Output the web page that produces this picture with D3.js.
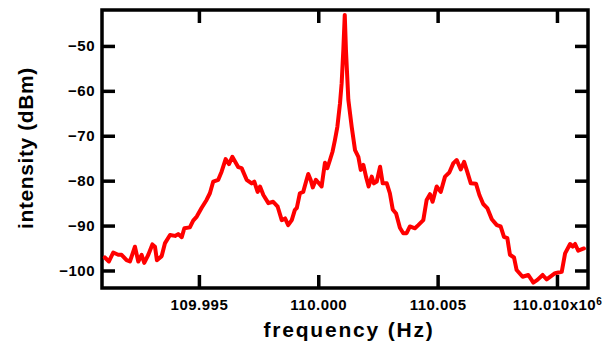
<!DOCTYPE html>
<html>
<head>
<meta charset="utf-8">
<script src="https://cdn.jsdelivr.net/npm/d3@7"></script>
<style>
  body { margin: 0; background: #fff; }
  text { font-family: "Liberation Sans", Arial, Helvetica, sans-serif; font-weight: bold; }
</style>
</head>
<body>
<svg id="chart" width="613" height="342"></svg>
<script>
// frequency in MHz, intensity in dBm
var freq = [
  109.99106, 109.99123, 109.99141, 109.99162, 109.99176, 109.99197, 109.99211, 109.99232, 109.99246, 109.99260,
  109.99271, 109.99288, 109.99305, 109.99316, 109.99324, 109.99344, 109.99358, 109.99379, 109.99400, 109.99413,
  109.99428, 109.99439, 109.99462, 109.99476, 109.99491, 109.99511, 109.99532, 109.99546, 109.99560, 109.99581,
  109.99595, 109.99612, 109.99626, 109.99640, 109.99665, 109.99679, 109.99700, 109.99721, 109.99732, 109.99746,
  109.99756, 109.99770, 109.99791, 109.99811, 109.99830, 109.99847, 109.99861, 109.99874, 109.99889, 109.99902,
  109.99910, 109.99923, 109.99937, 109.99949, 109.99958, 109.99968, 109.99977, 109.99990, 110.00000, 110.00014,
  110.00028, 110.00038, 110.00049, 110.00060, 110.00070, 110.00080, 110.00091, 110.00098, 110.00105, 110.00111,
  110.00116, 110.00126, 110.00140, 110.00154, 110.00168, 110.00178, 110.00189, 110.00200, 110.00211, 110.00224,
  110.00233, 110.00245, 110.00259, 110.00270, 110.00287, 110.00300, 110.00312, 110.00326, 110.00342, 110.00356,
  110.00370, 110.00384, 110.00405, 110.00419, 110.00440, 110.00454, 110.00468, 110.00479, 110.00496, 110.00513,
  110.00531, 110.00549, 110.00566, 110.00580, 110.00597, 110.00611, 110.00624, 110.00639, 110.00661, 110.00675,
  110.00691, 110.00708, 110.00727, 110.00748, 110.00764, 110.00778, 110.00792, 110.00803, 110.00820, 110.00831,
  110.00856, 110.00880, 110.00901, 110.00918, 110.00940, 110.00957, 110.00992, 110.01020, 110.01034, 110.01055,
  110.01066, 110.01076, 110.01089, 110.01113
]
var intensity = [
  -97.1, -98.0, -96.0, -96.5, -96.5, -97.7, -98.0, -94.7, -98.0, -96.5,
  -98.3, -96.5, -94.2, -94.7, -97.7, -96.8, -93.9, -92.1, -92.3, -91.9,
  -92.6, -90.6, -90.4, -88.9, -88.0, -86.1, -84.3, -82.8, -80.2, -79.8,
  -78.0, -75.2, -76.3, -74.7, -77.0, -77.2, -79.8, -80.6, -80.2, -82.5,
  -81.3, -83.2, -85.0, -84.7, -85.8, -88.8, -88.4, -89.9, -88.8, -86.5,
  -86.1, -82.8, -82.5, -80.2, -78.5, -79.8, -81.5, -79.8, -80.4, -81.3,
  -76.0, -77.2, -75.4, -73.5, -70.9, -68.0, -62.8, -58.3, -50.9, -43.1,
  -50.9, -62.0, -68.0, -73.2, -74.7, -77.6, -76.5, -79.1, -81.3, -79.1,
  -80.6, -80.2, -76.9, -80.6, -80.6, -82.8, -86.4, -87.3, -90.5, -91.7,
  -91.7, -90.2, -90.6, -89.9, -88.8, -84.3, -83.0, -84.7, -81.3, -82.5,
  -79.1, -78.2, -76.1, -75.4, -77.5, -75.8, -78.0, -80.6, -80.7, -83.2,
  -85.2, -86.1, -88.6, -89.9, -90.2, -92.5, -92.8, -96.5, -97.1, -99.9,
  -101.4, -101.0, -102.7, -102.1, -101.0, -102.0, -100.6, -100.3, -96.2, -94.1,
  -94.7, -94.1, -95.6, -95.1
]
var xTicks = [109.995, 110.000, 110.005, 110.010]
var yTicks = [-100, -90, -80, -70, -60, -50]

var margin = {top: 10, left: 102, right: 25, bottom: 54}
var width = 613 - margin.left - margin.right
var height = 342 - margin.top - margin.bottom

var svg = d3.select('#chart')
var g = svg.append('g')
  .attr('transform', 'translate(' + margin.left + ',' + margin.top + ')')

var x = d3.scaleLinear().domain([109.99094, 110.01130]).range([0, width])
var y = d3.scaleLinear().domain([-103.9, -42]).range([height, 0])

function styleAxis(sel) {
  sel.select('.domain').remove()
  sel.selectAll('.tick line').attr('stroke', '#000').attr('stroke-width', 3.5)
  sel.selectAll('.tick text')
    .attr('fill', '#000')
    .style('font-size', '15px')
    .style('letter-spacing', '0.5px')
}

// bottom axis with labels
var xAxis = g.append('g')
  .attr('transform', 'translate(0,' + height + ')')
  .call(d3.axisBottom(x).tickValues(xTicks).tickFormat(d3.format('.3f'))
    .tickSizeInner(-13).tickSizeOuter(0).tickPadding(11))
  .call(styleAxis)

// last label gets the x10^6 multiplier
var last = xAxis.selectAll('.tick text').filter(function(d, i) { return i === xTicks.length - 1 })
last.text(null)
last.append('tspan').text('110.010x10')
last.append('tspan').attr('dy', '-0.5em').style('font-size', '10px').text('6')

// top axis, ticks only
g.append('g')
  .call(d3.axisTop(x).tickValues(xTicks).tickFormat('').tickSizeInner(-13).tickSizeOuter(0))
  .call(styleAxis)

// left axis with labels
g.append('g')
  .call(d3.axisLeft(y).tickValues(yTicks).tickSizeInner(-13).tickSizeOuter(0).tickPadding(7))
  .call(styleAxis)

// right axis, ticks only
g.append('g')
  .attr('transform', 'translate(' + width + ',0)')
  .call(d3.axisRight(y).tickValues(yTicks).tickFormat('').tickSizeInner(-13).tickSizeOuter(0))
  .call(styleAxis)

// frame
g.append('rect')
  .attr('width', width)
  .attr('height', height)
  .attr('fill', 'none')
  .attr('stroke', '#000')
  .attr('stroke-width', 3.5)

var data = freq.map(function(f, i) { return [f, intensity[i]] })

var line = d3.line()
  .x(function(d) { return x(d[0]) })
  .y(function(d) { return y(d[1]) })

g.append('path')
  .datum(data)
  .attr('d', line)
  .attr('fill', 'none')
  .attr('stroke', '#ff0000')
  .attr('stroke-width', 4)
  .attr('stroke-linejoin', 'round')
  .attr('stroke-linecap', 'round')

// axis titles
svg.append('text')
  .attr('x', 349)
  .attr('y', 337)
  .attr('text-anchor', 'middle')
  .style('font-size', '21px')
  .style('letter-spacing', '1.8px')
  .text('frequency (Hz)')

svg.append('text')
  .attr('transform', 'translate(33,148) rotate(-90)')
  .attr('text-anchor', 'middle')
  .style('font-size', '21px')
  .style('letter-spacing', '0.6px')
  .text('intensity (dBm)')
</script>
</body>
</html>
